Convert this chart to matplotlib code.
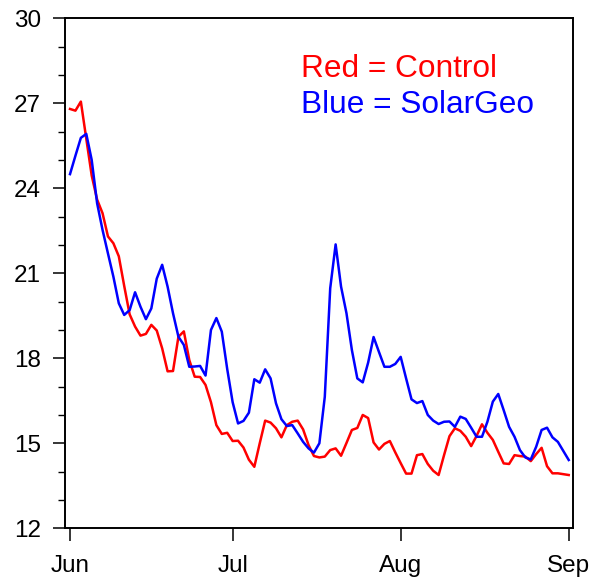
"""
Daily summer series: Control vs SolarGeo, Jun 1 - Sep 1.
"""

import numpy as np
import matplotlib
matplotlib.use("Agg")
import matplotlib.pyplot as plt
from matplotlib.ticker import MultipleLocator

plt.rcParams['font.family'] = ['Liberation Sans', 'DejaVu Sans']

# day index 0 = Jun 1, 92 = Sep 1
month_ticks = [0, 30, 61, 92]
month_labels = ['Jun', 'Jul', 'Aug', 'Sep']

control = [
    26.80, 26.74, 27.06, 25.75, 24.45, 23.60, 23.12, 22.30, 22.06, 21.60,
    20.55, 19.55, 19.12, 18.80, 18.86, 19.18, 18.98, 18.35, 17.54, 17.55,
    18.76, 18.95, 17.94, 17.35, 17.34, 17.06, 16.45, 15.64, 15.33, 15.37,
    15.08, 15.09, 14.85, 14.42, 14.17, 15.00, 15.80, 15.73, 15.53, 15.21,
    15.64, 15.76, 15.80, 15.49, 14.94, 14.55, 14.50, 14.53, 14.76, 14.82,
    14.56, 15.01, 15.47, 15.54, 16.00, 15.89, 15.03, 14.78, 14.98, 15.08,
    14.68, 14.30, 13.93, 13.93, 14.58, 14.62, 14.27, 14.03, 13.88, 14.58,
    15.25, 15.53, 15.44, 15.23, 14.90, 15.26, 15.67, 15.37, 15.12, 14.70,
    14.29, 14.27, 14.58, 14.55, 14.53, 14.37, 14.62, 14.84, 14.19, 13.94,
    13.94, 13.91, 13.88,
]

solargeo = [
    24.50, 25.15, 25.78, 25.92, 25.00, 23.47, 22.53, 21.70, 20.88, 19.94,
    19.53, 19.70, 20.33, 19.82, 19.38, 19.76, 20.81, 21.30, 20.53, 19.59,
    18.76, 18.47, 17.70, 17.71, 17.73, 17.39, 19.00, 19.42, 18.94, 17.62,
    16.45, 15.70, 15.79, 16.08, 17.26, 17.14, 17.61, 17.29, 16.41, 15.85,
    15.61, 15.64, 15.35, 15.05, 14.82, 14.67, 15.00, 16.64, 20.47, 22.02,
    20.53, 19.59, 18.29, 17.29, 17.15, 17.85, 18.75, 18.22, 17.70, 17.70,
    17.80, 18.05, 17.29, 16.55, 16.42, 16.49, 16.00, 15.80, 15.68, 15.76,
    15.77, 15.58, 15.94, 15.86, 15.55, 15.23, 15.23, 15.76, 16.47, 16.74,
    16.17, 15.58, 15.23, 14.76, 14.50, 14.43, 14.88, 15.47, 15.55, 15.21,
    15.05, 14.73, 14.41,
]

days = np.arange(len(control))

fig = plt.figure(figsize=(5.92, 5.79), dpi=100)
ax = fig.add_axes([0.1093, 0.0876, 0.8587, 0.8808])

ax.plot(days, control, color='red', linewidth=1.8)
ax.plot(days, solargeo, color='blue', linewidth=1.8)

ax.set_xlim(-0.98, 92.8)
ax.set_ylim(12, 30)

ax.set_xticks(month_ticks)
ax.set_xticklabels(month_labels)
ax.yaxis.set_major_locator(MultipleLocator(3))
ax.yaxis.set_minor_locator(MultipleLocator(1))

# closed box, ticks only on left and bottom
for s in ax.spines.values():
    s.set_linewidth(1.4)

ax.tick_params(axis='both', which='major', direction='out', length=9,
               width=1.1, labelsize=17.5, pad=8)
ax.tick_params(axis='y', which='minor', direction='out', length=5, width=1.0)
ax.tick_params(axis='x', which='major', pad=10)

ax.text(0.465, 0.8855, 'Red = Control', color='red', fontsize=22.8,
        transform=ax.transAxes, va='baseline', ha='left')
ax.text(0.465, 0.815, 'Blue = SolarGeo', color='blue', fontsize=22.8,
        transform=ax.transAxes, va='baseline', ha='left')

fig.savefig('out.png', dpi=100)
